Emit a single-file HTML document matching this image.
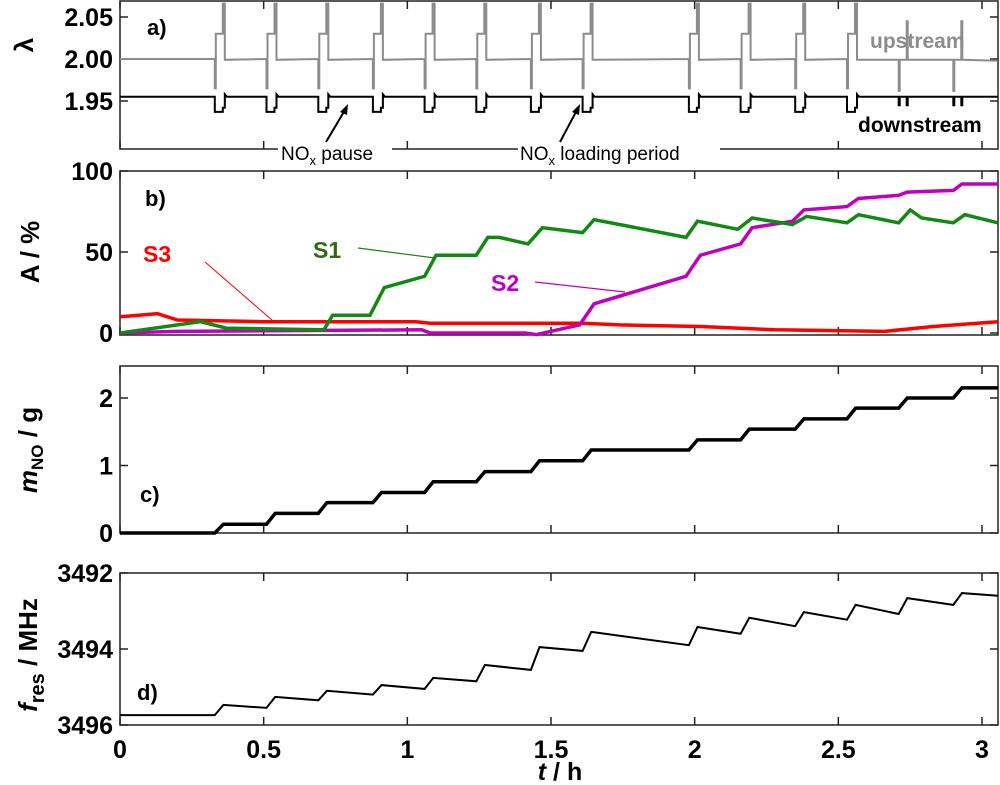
<!DOCTYPE html>
<html><head><meta charset="utf-8"><style>
body{margin:0;background:#fff}
svg{display:block;font-family:"Liberation Sans",Arial,sans-serif}
</style></head><body>
<svg id="chart" width="1000" height="785" viewBox="0 0 1000 785" xmlns="http://www.w3.org/2000/svg"></svg>
<script>
// ---- data ----
const xTicks = [0, 0.5, 1, 1.5, 2, 2.5, 3];
const xTickLabels = ["0", "0.5", "1", "1.5", "2", "2.5", "3"];
const stepTimes = [0.33, 0.51, 0.69, 0.88, 1.06, 1.24, 1.43, 1.61, 1.98, 2.16, 2.35, 2.53, 2.71, 2.90];
const massLevels = [0, 0.13, 0.29, 0.45, 0.60, 0.76, 0.91, 1.07, 1.23, 1.38, 1.54, 1.69, 1.85, 2.0, 2.15];
const freqLevelStart = [3495.74, 3495.47, 3495.26, 3495.10, 3494.95, 3494.76, 3494.42, 3493.95, 3493.55, 3493.42, 3493.18, 3493.03, 3492.84, 3492.66, 3492.53];
const freqLevelEnd = [3495.74, 3495.55, 3495.35, 3495.20, 3495.05, 3494.85, 3494.55, 3494.05, 3493.90, 3493.60, 3493.40, 3493.23, 3493.08, 3492.84, 3492.60];
const pulseTimes = [0.33, 0.51, 0.69, 0.88, 1.06, 1.24, 1.43, 1.61, 1.98, 2.16, 2.35, 2.53];
const thinPulseTimes = [2.71, 2.90];
const s1T = [0, 0.28, 0.37, 0.70, 0.71, 0.74, 0.87, 0.92, 1.06, 1.10, 1.24, 1.28, 1.32, 1.42, 1.47, 1.61, 1.65, 1.97, 2.01, 2.15, 2.20, 2.34, 2.39, 2.53, 2.57, 2.71, 2.75, 2.79, 2.90, 2.94, 3.055];
const s1V = [0, 7, 3, 2, 2, 11, 11, 28, 35, 48, 48, 59, 59, 55, 65, 62, 70, 59, 69, 64, 71, 67, 72, 68, 73, 68, 76, 71, 68, 73, 68];
const s2T = [0, 0.2, 1.05, 1.08, 1.41, 1.45, 1.55, 1.60, 1.65, 1.97, 2.02, 2.16, 2.20, 2.34, 2.38, 2.53, 2.57, 2.71, 2.74, 2.90, 2.93, 3.055];
const s2V = [0, 1, 2, 0, 0, -1, 3, 5, 18, 35, 48, 55, 65, 69, 76, 78, 83, 85, 87, 88, 92, 92];
const s3T = [0, 0.13, 0.2, 0.5, 0.74, 1.03, 1.08, 1.32, 1.61, 1.74, 2.02, 2.28, 2.66, 2.83, 3.055];
const s3V = [10, 12, 8, 7, 7, 7, 6, 6, 6, 5, 4, 2, 1, 4, 7];
const aTicks = [2.05, 2.00, 1.95];
const bTicks = [0, 50, 100];
const cTicks = [0, 1, 2];
const dTicks = [3492, 3494, 3496];

// ---- geometry ----
const X0 = 120, X1 = 998, TMAX = 3.055;
const sx = t => X0 + t / 3 * 862;
const P = {
  a: {top: 1, bot: 149, y: v => 59 - (v - 2.0) / 0.05 * 42},
  b: {top: 171, bot: 335, y: v => 333 - v * 1.62},
  c: {top: 366, bot: 533, y: v => 533 - v * 67.5},
  d: {top: 573, bot: 725, y: v => 573 + (v - 3492) * 38}
};
const svg = document.getElementById('chart');
const NS = 'http://www.w3.org/2000/svg';
function el(tag, attrs, parent) {
  const e = document.createElementNS(NS, tag);
  for (const k in attrs) e.setAttribute(k, attrs[k]);
  (parent || svg).appendChild(e);
  return e;
}
function txt(s, x, y, attrs, name) {
  const t = el('text', Object.assign({x: x, y: y}, attrs));
  t.textContent = s;
  
  
  return t;
}
function path(pts, stroke, w, name) {
  const d = pts.map((p, i) => (i ? 'L' : 'M') + p[0].toFixed(1) + ' ' + p[1].toFixed(1)).join(' ');
  const p = el('path', {d: d, fill: 'none', stroke: stroke, 'stroke-width': w, 'stroke-linejoin': 'miter'});
  
  
  return p;
}
function frame(key, ticks, labels, name) {
  const g = P[key];
  const r = el('rect', {x: X0, y: g.top, width: X1 - X0, height: g.bot - g.top, fill: 'none', stroke: '#222', 'stroke-width': 1.5});
  
  
  xTicks.forEach(t => {
    el('line', {x1: sx(t), x2: sx(t), y1: g.top, y2: g.top + 8, stroke: '#222', 'stroke-width': 1.5});
    el('line', {x1: sx(t), x2: sx(t), y1: g.bot, y2: g.bot - 8, stroke: '#222', 'stroke-width': 1.5});
  });
  ticks.forEach((v, i) => {
    const y = g.y(v);
    el('line', {x1: X0, x2: X0 + 8, y1: y, y2: y, stroke: '#222', 'stroke-width': 1.5});
    el('line', {x1: X1, x2: X1 - 8, y1: y, y2: y, stroke: '#222', 'stroke-width': 1.5});
    txt(labels[i], 113, y + 9, {'font-size': 25, 'font-weight': 'bold', 'text-anchor': 'end'}, name + '-tick-label');
  });
}

// ---- panel a ----
frame('a', aTicks, ["2.05", "2.00", "1.95"], 'panel-a');
(function () {
  const ya = P.a.y;
  const up = [[sx(0), ya(2.0)]], dn = [[sx(0), ya(1.955)]];
  pulseTimes.forEach(t => {
    up.push([sx(t), ya(2.0)], [sx(t), ya(1.965)], [sx(t) + 1, ya(1.965)], [sx(t) + 1, ya(2.03)],
            [sx(t) + 8, ya(2.03)], [sx(t) + 8, ya(2.066)], [sx(t) + 10, ya(2.066)], [sx(t) + 10, ya(1.999)]);
    dn.push([sx(t), ya(1.955)], [sx(t), ya(1.937)], [sx(t) + 8, ya(1.937)], [sx(t) + 8, ya(1.942)],
            [sx(t) + 10, ya(1.942)], [sx(t) + 10, ya(1.958)], [sx(t) + 12, ya(1.955)]);
  });
  thinPulseTimes.forEach(t => {
    up.push([sx(t), ya(1.999)], [sx(t), ya(1.962)], [sx(t) + 1, ya(1.962)], [sx(t) + 1, ya(1.999)],
            [sx(t) + 8, ya(1.999)], [sx(t) + 8, ya(2.045)], [sx(t) + 9, ya(2.045)], [sx(t) + 9, ya(1.999)]);
    dn.push([sx(t), ya(1.955)], [sx(t), ya(1.945)], [sx(t) + 1, ya(1.945)], [sx(t) + 1, ya(1.955)],
            [sx(t) + 8, ya(1.955)], [sx(t) + 8, ya(1.945)], [sx(t) + 9, ya(1.945)], [sx(t) + 9, ya(1.955)]);
  });
  up.push([sx(TMAX), ya(1.998)]);
  dn.push([sx(TMAX), ya(1.955)]);
  path(up, '#8c8c8c', 2, 'upstream-lambda-line');
  path(dn, '#000', 2, 'downstream-lambda-line');
})();
txt('a)', 147, 35, {'font-size': 22, 'font-weight': 'bold'}, 'panel-a-label');
txt('upstream', 870, 48, {'font-size': 21, 'font-weight': 'bold', fill: '#8c8c8c'}, 'upstream-label');
txt('downstream', 858, 132, {'font-size': 21, 'font-weight': 'bold'}, 'downstream-label');
// annotations
el('rect', {x: 278, y: 140, width: 114, height: 24, fill: '#fff'});
el('rect', {x: 518, y: 140, width: 202, height: 24, fill: '#fff'});
const an1 = txt('NO', 281, 160, {'font-size': 19}, 'nox-pause-label');
el('tspan', {'font-size': 13, dy: 5}, an1).textContent = 'x';
el('tspan', {dy: -5}, an1).textContent = ' pause';
const an2 = txt('NO', 520, 160, {'font-size': 19}, 'nox-loading-period-label');
el('tspan', {'font-size': 13, dy: 5}, an2).textContent = 'x';
el('tspan', {dy: -5}, an2).textContent = ' loading period';
el('line', {x1: 326, y1: 142, x2: 345, y2: 110, stroke: '#000', 'stroke-width': 2});
el('polygon', {points: '348,104 340,112 347,115', fill: '#000'});
el('line', {x1: 560, y1: 142, x2: 577, y2: 110, stroke: '#000', 'stroke-width': 2});
el('polygon', {points: '580,104 572,112 579,115', fill: '#000'});

// ---- panel b ----
frame('b', bTicks, ["0", "50", "100"], 'panel-b');
path(s3T.map((t, i) => [sx(t), P.b.y(s3V[i])]), '#ff0000', 3.5, 's3-line');
path(s2T.map((t, i) => [sx(t), P.b.y(s2V[i])]), '#c000c0', 3.5, 's2-line');
path(s1T.map((t, i) => [sx(t), P.b.y(s1V[i])]), '#128a12', 3.5, 's1-line');
txt('b)', 145, 206, {'font-size': 22, 'font-weight': 'bold'}, 'panel-b-label');
txt('S3', 143, 262, {'font-size': 23, 'font-weight': 'bold', fill: '#ff0000'}, 's3-label');
txt('S1', 313, 258, {'font-size': 23, 'font-weight': 'bold', fill: '#2e6b12'}, 's1-label');
txt('S2', 491, 291, {'font-size': 23, 'font-weight': 'bold', fill: '#c000c0'}, 's2-label');
el('line', {x1: 205, y1: 262, x2: 272, y2: 320, stroke: '#ff0000', 'stroke-width': 1});
el('line', {x1: 358, y1: 248, x2: 435, y2: 258, stroke: '#128a12', 'stroke-width': 1.2});
el('line', {x1: 535, y1: 282, x2: 625, y2: 292, stroke: '#c000c0', 'stroke-width': 1.2});

// ---- panel c ----
frame('c', cTicks, ["0", "1", "2"], 'panel-c');
(function () {
  const pts = [[sx(0), P.c.y(massLevels[0])]];
  stepTimes.forEach((t, i) => {
    pts.push([sx(t), P.c.y(massLevels[i])], [sx(t + 0.03), P.c.y(massLevels[i + 1])]);
  });
  pts.push([sx(TMAX), P.c.y(massLevels[massLevels.length - 1])]);
  path(pts, '#000', 3.5, 'nox-mass-line');
})();
txt('c)', 140, 502, {'font-size': 22, 'font-weight': 'bold'}, 'panel-c-label');

// ---- panel d ----
frame('d', dTicks, ["3492", "3494", "3496"], 'panel-d');
(function () {
  const pts = [];
  const bounds = [0].concat(stepTimes);
  bounds.forEach((t, i) => {
    const tEnd = i < stepTimes.length ? stepTimes[i] : TMAX;
    const t0 = i === 0 ? 0 : t + 0.03;
    pts.push([sx(t0), P.d.y(freqLevelStart[i])], [sx(tEnd), P.d.y(freqLevelEnd[i])]);
  });
  path(pts, '#000', 2, 'resonance-frequency-line');
})();
txt('d)', 137, 700, {'font-size': 22, 'font-weight': 'bold'}, 'panel-d-label');

// x tick labels
xTicks.forEach((t, i) => {
  txt(xTickLabels[i], sx(t), 758, {'font-size': 25, 'font-weight': 'bold', 'text-anchor': 'middle'}, 'x-tick-label');
});
const xt = txt('', 560, 780, {'font-size': 25, 'font-weight': 'bold', 'text-anchor': 'middle'}, 'x-axis-title');
el('tspan', {'font-style': 'italic'}, xt).textContent = 't';
el('tspan', {}, xt).textContent = ' / h';

// y titles
txt('λ', 33, 45, {'font-size': 26, 'font-weight': 'bold', 'text-anchor': 'middle', transform: 'rotate(-90 33 45)'}, 'panel-a-y-title');
txt('A / %', 30, 252, {'font-size': 26, 'font-weight': 'bold', 'text-anchor': 'middle', transform: 'rotate(-90 30 252)', dy: 9}, 'panel-b-y-title');
const yc = txt('', 30, 450, {'font-size': 26, 'font-weight': 'bold', 'text-anchor': 'middle', transform: 'rotate(-90 30 450)', dy: 7}, 'panel-c-y-title');
el('tspan', {'font-style': 'italic'}, yc).textContent = 'm';
el('tspan', {'font-size': 17, dy: 6}, yc).textContent = 'NO';
el('tspan', {dy: -6}, yc).textContent = ' / g';
const yd = txt('', 30, 655, {'font-size': 26, 'font-weight': 'bold', 'text-anchor': 'middle', transform: 'rotate(-90 30 655)', dy: 7}, 'panel-d-y-title');
el('tspan', {'font-style': 'italic'}, yd).textContent = 'f';
el('tspan', {'font-size': 20, dy: 7}, yd).textContent = 'res';
el('tspan', {dy: -7}, yd).textContent = ' / MHz';
</script>
</body></html>
